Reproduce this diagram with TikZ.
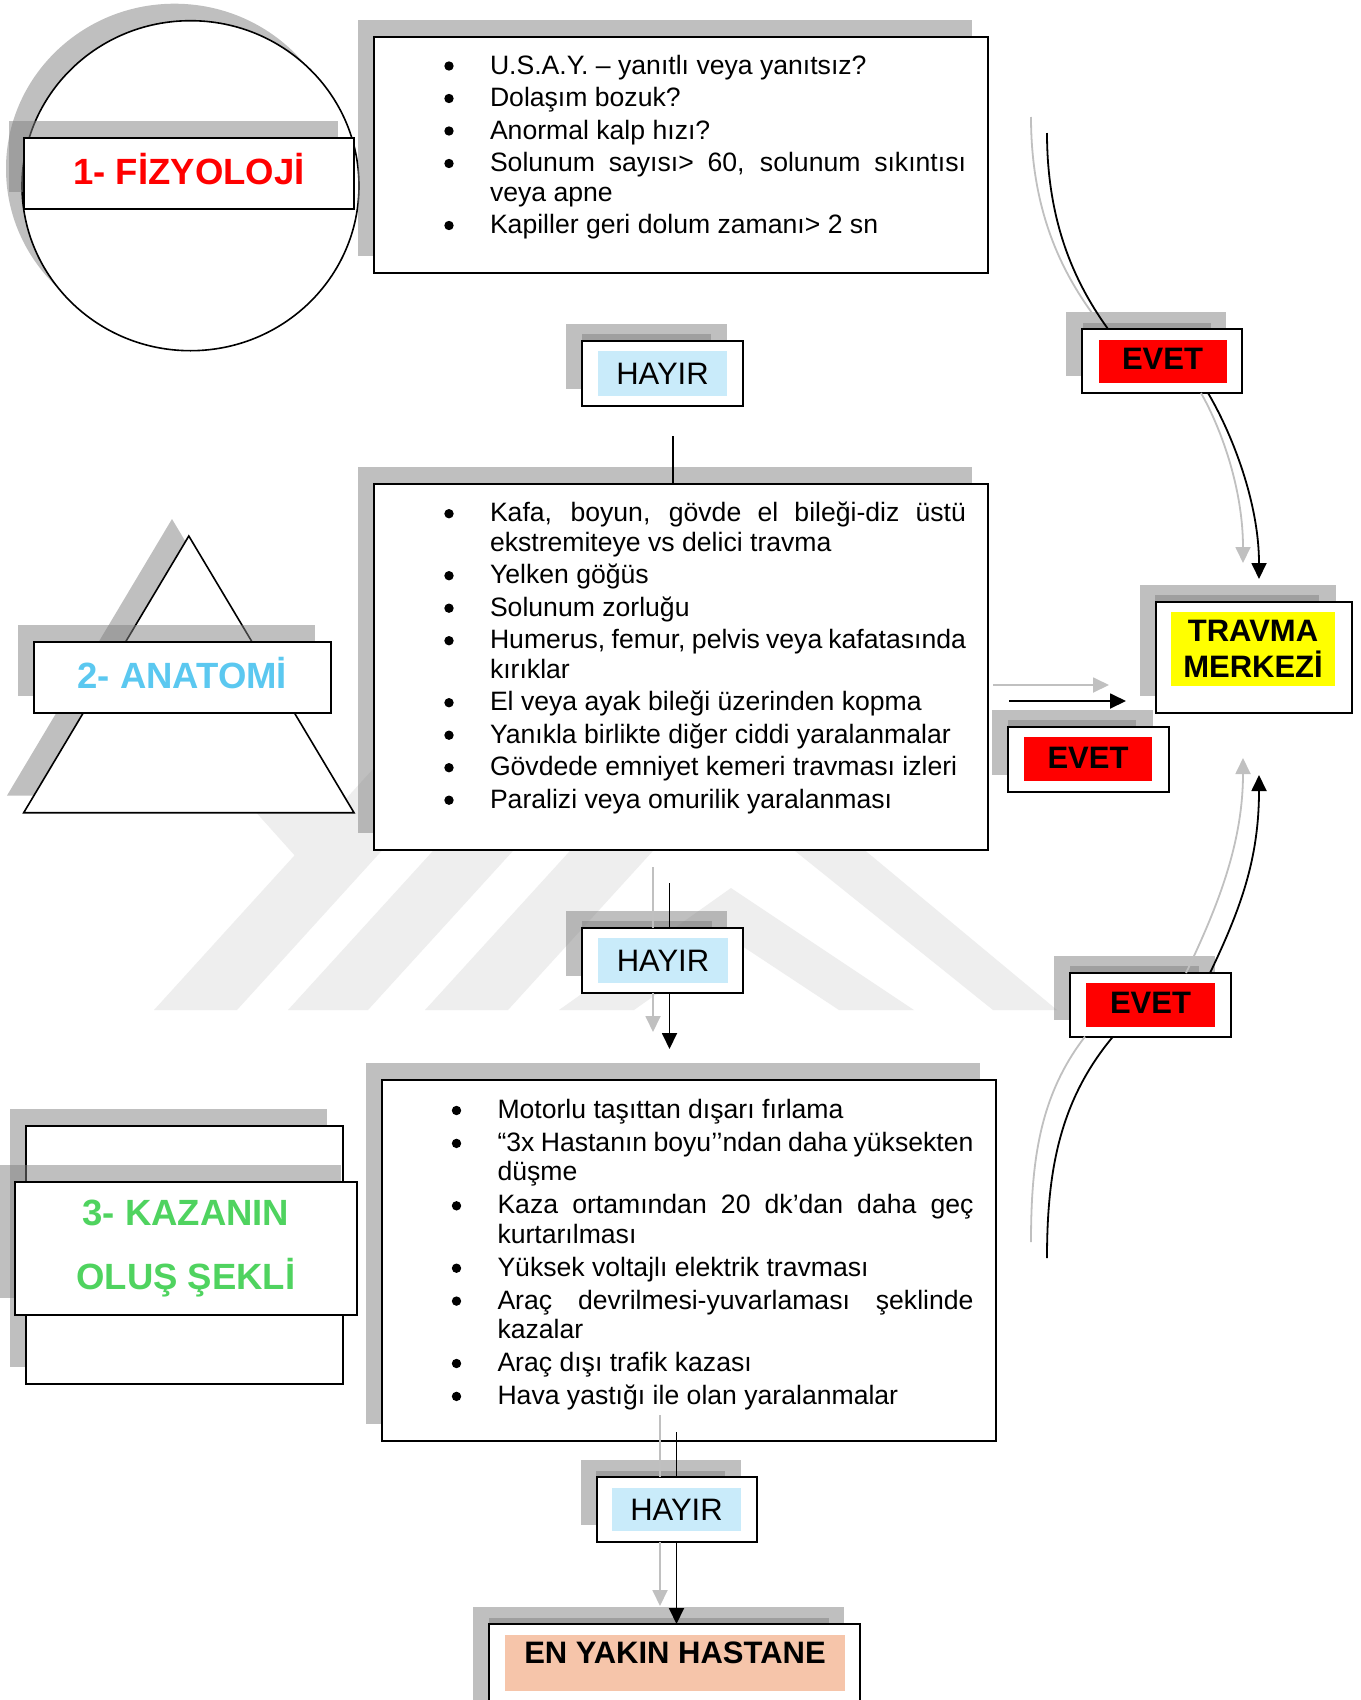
\documentclass[tikz,border=0pt]{standalone}
\usepackage{fontspec}
\setmainfont{Liberation Sans}
\usetikzlibrary{arrows.meta,calc,shapes.geometric}
\definecolor{shadowgrey}{HTML}{808080}
\definecolor{hayirc}{HTML}{C9EBFA}
\definecolor{evetc}{HTML}{FF0000}
\definecolor{travc}{HTML}{FFFF00}
\definecolor{hastc}{HTML}{F6C5AA}
\definecolor{anac}{HTML}{5BC8F0}
\definecolor{kazc}{HTML}{4FD35F}
\definecolor{greyl}{HTML}{C0C0C0}
\definecolor{wmc}{HTML}{EEEEEE}
\newcommand\bodyfont{\fontsize{26.6pt}{29.5pt}\selectfont}
\newcommand\bl[1]{\par\noindent\hspace*{58pt}#1}
\newcommand\bj[1]{\par\noindent\hspace*{58pt}\makebox[476pt][s]{#1}}
\newcommand\bc[1]{\par\noindent\hspace*{58pt}#1}
\newcommand\isep{\par\vspace{3pt}}
\newcommand\isepb{\par\vspace{3.4pt}}
\newcommand\shad[4]{\fill[shadowst] ({#1-16},{#2-17}) rectangle ({#3-16},{#4-17});}
\begin{document}
\begin{tikzpicture}[x=1pt,y=-1pt,
  shadowst/.style={fill=shadowgrey, fill opacity=0.5, draw=none},
  boxst/.style={draw=black, line width=2pt, fill=white, inner sep=0pt, outer sep=0pt},
  fillst/.style={draw=none, inner sep=0pt, outer sep=0pt},
  headfont/.style={font=\fontsize{36.5pt}{43pt}\selectfont\bfseries, text height=26pt, text depth=5pt},
  lblfont/.style={font=\fontsize{31pt}{36pt}\selectfont},
  lblbold/.style={font=\fontsize{31pt}{36pt}\selectfont\bfseries},
  listst/.style={anchor=base west, inner sep=0pt, outer sep=0pt, font=\bodyfont},
  bulletdot/.style={fill=black},
  conn/.style={draw=black, line width=1.8pt},
  gconn/.style={draw=greyl, line width=1.8pt},
  tip/.style={-{Triangle[length=16pt,width=15pt]}}
]
\useasboundingbox (0,0) rectangle (1360,1700);
\fill[white] (0,0) rectangle (1360,1700);

% faint watermark
\fill[wmc] (154,1010) -- (237,1010) -- (646,560) -- (563,560) -- cycle;
\fill[wmc] (245,800) -- (320,800) -- (372,858) -- (297,858) -- cycle;
\fill[wmc] (288,1010) -- (368,1010) -- (778,560) -- (698,560) -- cycle;
\fill[wmc] (425,1010) -- (508,1010) -- (918,560) -- (835,560) -- cycle;
\fill[wmc] (993,1010) -- (1057,1010) -- (684,700) -- (607,700) -- cycle;
\fill[wmc] (559,1010) -- (731,888) -- (914,1010) -- (839,1010) -- (733,940) -- (634,1010) -- cycle;

% 1 - circle + FIZYOLOJI
\fill[shadowst] (174.5,168.7) ellipse [x radius=168.5pt, y radius=165pt];
\node[ellipse, draw, line width=1.6pt, fill=white, minimum width=337pt, minimum height=330pt, inner sep=0pt] (circ) at (190.5,185.7) {};
\shad{24.5}{138}{353.6}{209}
\node[boxst, minimum width=329.1pt, minimum height=71pt, text=red, headfont] (fiz) at (189,173.5) {1- FİZYOLOJİ};

% 2 - triangle + ANATOMI
\fill[shadowst] (172,519) -- (337.2,795.7) -- (6.9,795.7) -- cycle;
\draw[line width=1.6pt, fill=white] (188.8,536) coordinate (tA) -- (354,812.7) coordinate (tB) -- (23.7,812.7) coordinate (tC) -- cycle;
\shad{33.5}{641.7}{331}{713.3}
\node[boxst, minimum width=297.5pt, minimum height=71.6pt, text=anac, headfont] (ana) at (182.25,677.5) {2- ANATOMİ};

% 3 - KAZANIN
\shad{25.5}{1126}{342.5}{1384}
\node[boxst, minimum width=317pt, minimum height=258pt] (kazb) at (184,1255) {};
\shad{15.3}{1182}{356.5}{1314.7}
\node[boxst, minimum width=341.2pt, minimum height=132.7pt, text=kazc, font=\fontsize{36.5pt}{64pt}\selectfont\bfseries, align=center] (kaz) at (185.9,1248.3) {3- KAZANIN\\OLUŞ ŞEKLİ};

% main list boxes
\shad{374}{37}{988}{273}
\node[boxst, minimum width=614pt, minimum height=236pt] (b1) at (681,155) {};
\node[listst] (l1) at (432,74) {\begin{minipage}[t]{534pt}\lineskiplimit=-100pt
\bl{U.S.A.Y. – yanıtlı veya yanıtsız?}\isep
\bl{Dolaşım bozuk?}\isep
\bl{Anormal kalp hızı?}\isep
\bj{Solunum sayısı> 60, solunum sıkıntısı}
\bc{veya apne}\isep
\bl{Kapiller geri dolum zamanı> 2 sn}
\end{minipage}};
\foreach \yy in {74,106.5,139,171.5,233.5}
  \fill[bulletdot] (449,\yy-8) circle (4.7pt);

\shad{374}{484}{988}{850}
\node[boxst, minimum width=614pt, minimum height=366pt] (b2) at (681,667) {};
\node[listst] (l2) at (432,521.7) {\begin{minipage}[t]{534pt}\lineskiplimit=-100pt
\bj{Kafa, boyun, gövde el bileği-diz üstü}
\bc{ekstremiteye vs delici travma}\isep
\bl{Yelken göğüs}\isep
\bl{Solunum zorluğu}\isep
\bj{Humerus, femur, pelvis veya kafatasında}
\bc{kırıklar}\isep
\bl{El veya ayak bileği üzerinden kopma}\isep
\bl{Yanıkla birlikte diğer ciddi yaralanmalar}\isep
\bl{Gövdede emniyet kemeri travması izleri}\isep
\bl{Paralizi veya omurilik yaralanması}
\end{minipage}};
\foreach \yy in {521.7,583.7,616.2,648.7,710.7,743.2,775.7,808.2}
  \fill[bulletdot] (449,\yy-8) circle (4.7pt);

\shad{381.5}{1080}{996}{1441}
\node[boxst, minimum width=614.5pt, minimum height=361pt] (b3) at (688.75,1260.5) {};
\node[listst] (l3) at (439.5,1118.5) {\begin{minipage}[t]{534pt}\lineskiplimit=-100pt
\bl{Motorlu taşıttan dışarı fırlama}\isepb
\bj{“3x Hastanın boyu’’ndan daha yüksekten}
\bc{düşme}\isepb
\bj{Kaza ortamından 20 dk’dan daha geç}
\bc{kurtarılması}\isepb
\bl{Yüksek voltajlı elektrik travması}\isepb
\bj{Araç devrilmesi-yuvarlaması şeklinde}
\bc{kazalar}\isepb
\bl{Araç dışı trafik kazası}\isepb
\bl{Hava yastığı ile olan yaralanmalar}
\end{minipage}};
\foreach \yy in {1118.5,1151.4,1213.8,1276.2,1309.1,1371.5,1404.4}
  \fill[bulletdot] (456.5,\yy-8) circle (4.7pt);

% HAYIR boxes
\shad{582}{341}{743}{406}\shad{598}{351}{727}{396}
\node[boxst, minimum width=161pt, minimum height=65pt] (h1) at (662.5,373.5) {};
\node[fillst, fill=hayirc, minimum width=129pt, minimum height=45pt, lblfont, text height=22pt, text depth=0pt] (h1t) at (662.5,373.5) {HAYIR};

\shad{582}{928}{743}{993}\shad{598}{938}{728}{983}
\node[boxst, minimum width=161pt, minimum height=65pt] (h2) at (662.5,960.5) {};
\node[fillst, fill=hayirc, minimum width=130pt, minimum height=45pt, lblfont, text height=22pt, text depth=0pt] (h2t) at (663,960.5) {HAYIR};

\shad{596.5}{1477}{757}{1541.7}\shad{612}{1487.7}{741}{1531}
\node[boxst, minimum width=160.5pt, minimum height=64.7pt] (h3) at (676.75,1509.4) {};
\node[fillst, fill=hayirc, minimum width=129pt, minimum height=43.5pt, lblfont, text height=22pt, text depth=0pt] (h3t) at (676.5,1509.4) {HAYIR};

% EVET boxes
\shad{1082}{329}{1242}{393}\shad{1098.5}{340}{1226.5}{382.7}
\node[boxst, minimum width=160pt, minimum height=64pt] (e1) at (1162,361) {};
\node[fillst, fill=evetc, minimum width=128pt, minimum height=42.7pt, lblbold, text height=22pt, text depth=5pt] (e1t) at (1162.5,361.4) {EVET};

\shad{1008}{727}{1168.7}{792}\shad{1024}{737.4}{1152}{781}
\node[boxst, minimum width=160.7pt, minimum height=65pt] (e2) at (1088.4,759.5) {};
\node[fillst, fill=evetc, minimum width=128pt, minimum height=43.6pt, lblbold, text height=22pt, text depth=4pt] (e2t) at (1088,759.2) {EVET};

\shad{1070}{973}{1231}{1036.6}\shad{1086}{983.4}{1215}{1027}
\node[boxst, minimum width=161pt, minimum height=63.6pt] (e3) at (1150.5,1004.8) {};
\node[fillst, fill=evetc, minimum width=129pt, minimum height=43.6pt, lblbold, text height=22pt, text depth=5pt] (e3t) at (1150.5,1005.2) {EVET};

% TRAVMA MERKEZI
\shad{1155.7}{601.7}{1351.7}{713.4}\shad{1171}{612}{1335}{686}
\node[boxst, minimum width=196pt, minimum height=111.7pt] (tr) at (1253.7,657.5) {};
\node[fillst, fill=travc, minimum width=164pt, minimum height=74pt, lblbold, align=center] (trt) at (1253,649) {TRAVMA\\MERKEZİ};

% EN YAKIN HASTANE
\shad{489}{1624}{860}{1730}\shad{505}{1635}{845}{1691}
\node[boxst, minimum width=371pt, minimum height=106pt] (hy) at (674.5,1677) {};
\node[fillst, fill=hastc, minimum width=340pt, minimum height=56pt, lblbold, text height=23pt, text depth=22pt] (hyt) at (675,1663) {EN YAKIN HASTANE};

% connectors
\coordinate (c1s) at (673,436);
\draw[conn] (c1s) -- (c1s |- b2.north);

\coordinate (c2s) at (669.5,883);
\coordinate (g2s) at (653,867);
\draw[gconn] (g2s) -- (g2s |- h2.north);
\draw[conn] (c2s) -- (c2s |- h2.north);
\coordinate (c3e) at (669.5,1049);
\coordinate (g3e) at (653,1032);
\draw[gconn,tip] (g3e |- h2.south) -- (g3e);
\draw[conn,tip] (c3e |- h2.south) -- (c3e);

\coordinate (c4s) at (676.5,1432);
\coordinate (g4s) at (660,1415);
\draw[gconn] (g4s) -- (g4s |- h3.north);
\draw[conn] (c4s) -- (c4s |- h3.north);
\coordinate (g5e) at (660,1606);
\draw[gconn,tip] (g5e |- h3.south) -- (g5e);
\draw[conn,tip] (c4s |- h3.south) -- (c4s |- hy.north);

\coordinate (t1s) at (1047,133);
\coordinate (gt1s) at (1031,117);
\coordinate (gt1e) at (1092,313);
\draw[gconn] (gt1s) .. controls (1031,214) and (1064,274) .. (gt1e);
\draw[conn] (t1s) .. controls (1047,230) and (1080,290) .. ($(e1.north west)+(26,0)$);

\coordinate (gt2e) at (1243,563);
\coordinate (t2e) at (1259,579);
\draw[gconn,tip] ($(e1.south)+(39,0)$) .. controls (1222,430) and (1243,490) .. (gt2e);
\draw[conn,tip] ($(e1.south)+(46,0)$) .. controls (1230,430) and (1259,500) .. (t2e);

\coordinate (gha) at (1109,685);
\coordinate (ha) at (1126,701);
\draw[gconn,tip] ($(b2.east)+(5,18)$) -- (gha);
\draw[conn,tip] ($(b2.east)+(21,34)$) -- (ha);

\coordinate (gt3e) at (1243,758);
\coordinate (t3e) at (1259,775);
\draw[gconn,tip] ($(e3.north)+(35.5,0)$) .. controls (1216,910) and (1243,845) .. (gt3e);
\draw[conn,tip] ($(e3.north)+(59.5,0)$) .. controls (1240,910) and (1259,860) .. (t3e);

\coordinate (gt4e) at (1031,1242);
\coordinate (t4e) at (1047,1258);
\draw[gconn] ($(e3.south)+(-65.5,0)$) .. controls (1040,1095) and (1031,1160) .. (gt4e);
\draw[conn] ($(e3.south)+(-37.5,0)$) .. controls (1060,1100) and (1047,1170) .. (t4e);
\end{tikzpicture}
\end{document}
